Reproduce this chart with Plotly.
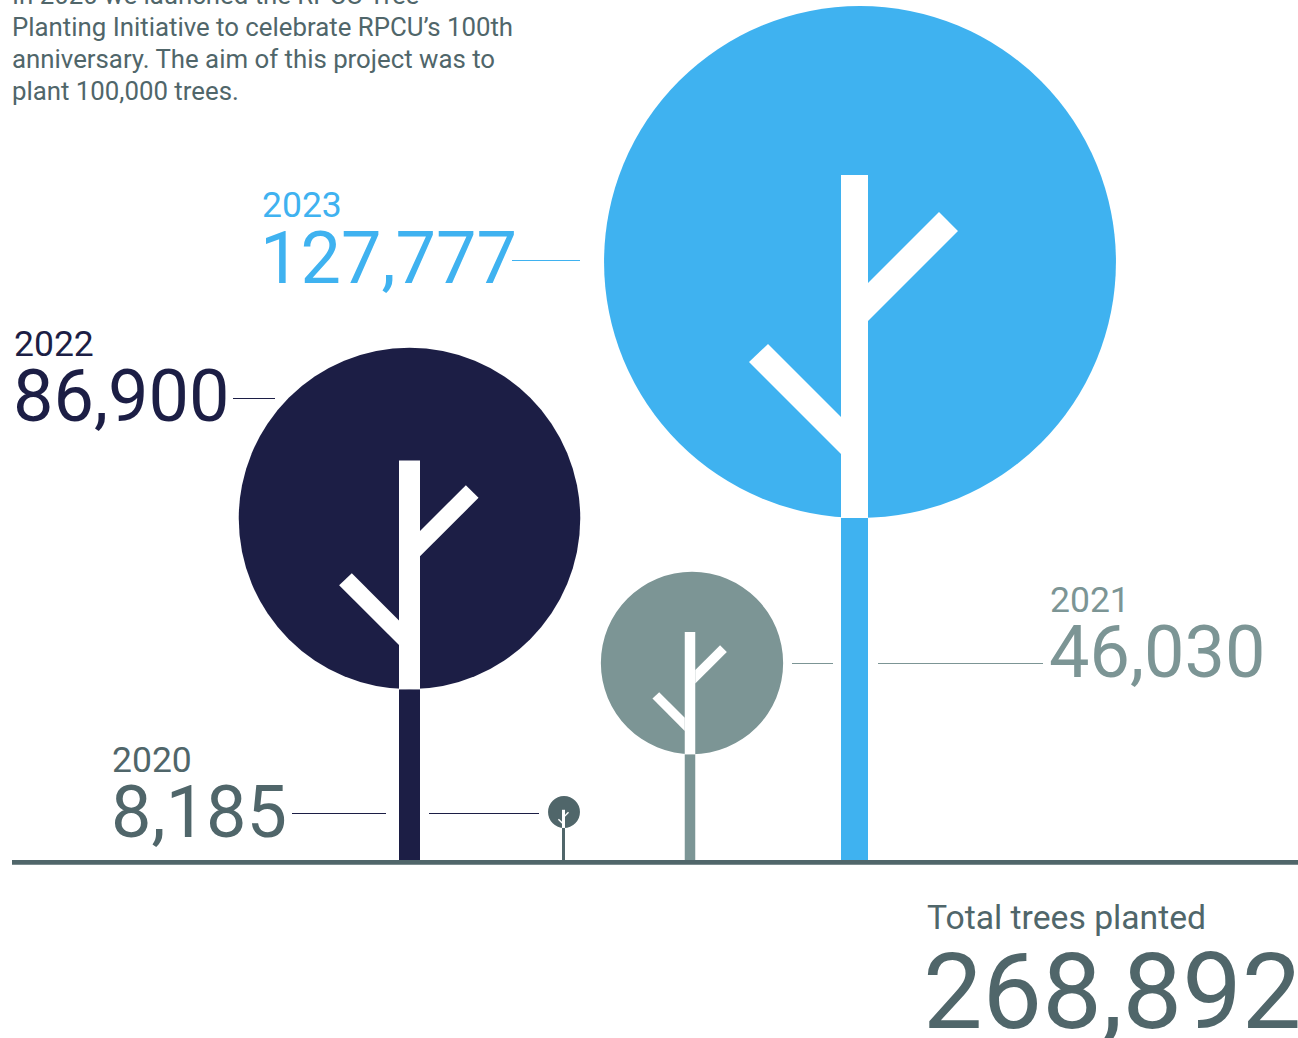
import plotly.graph_objects as go

# Trees planted per year
years = ["2020", "2021", "2022", "2023"]
trees_planted = [8185, 46030, 86900, 127777]
total_planted = 268892
colors = ["#50666a", "#7c9595", "#1c1e45", "#3fb2f0"]

# Crown size per planted tree, crown placement and trunk thickness
crown_per_tree = [0.00195, 0.00198, 0.001965, 0.002003]
crown_x = [564, 692, 409.5, 860]
crown_y = [48, 197, 341.5, 598]
trunk_x = [563.5, 690, 409.5, 854.5]
trunk_width = [3, 10.5, 21, 27]
inner_scale = [0.85, 1, 1, 1]

intro_lines = [
    "In 2020 we launched the RPCU Tree",
    "Planting Initiative to celebrate RPCU’s 100th",
    "anniversary. The aim of this project was to",
    "plant 100,000 trees.",
]

GROUND = 0
FONT = "Roboto"
INK = "#50666a"

fig = go.Figure()


def polygon(points, color):
    path = "M " + " L ".join(f"{x:.2f},{y:.2f}" for x, y in points) + " Z"
    fig.add_shape(type="path", path=path, xref="x", yref="y", fillcolor=color, line_width=0)


def segment(x0, x1, y, color, width=1):
    fig.add_trace(go.Scatter(x=[x0, x1], y=[y, y], mode="lines",
                             line=dict(color=color, width=width), hoverinfo="skip", showlegend=False))


for v, k, cx, cy, tx, tw, s, c in zip(trees_planted, crown_per_tree, crown_x, crown_y,
                                      trunk_x, trunk_width, inner_scale, colors):
    r = v * k
    base = cy - r
    fig.add_shape(type="circle", xref="x", yref="y", x0=cx - r, x1=cx + r, y0=cy - r, y1=cy + r,
                  fillcolor=c, line_width=0)
    h = tw / 2
    u = r * s / 256
    # lower trunk in the tree's colour
    polygon([(tx - h, GROUND), (tx + h, GROUND), (tx + h, base), (tx - h, base)], c)
    # white trunk and 45-degree branches inside the crown
    polygon([(tx - h, base), (tx + h, base), (tx + h, base + 343 * u), (tx - h, base + 343 * u)], "#ffffff")
    polygon([(tx + h, base + 221.5 * u + h), (tx + 84.5 * u, base + 306 * u),
             (tx + 103.5 * u, base + 287 * u), (tx + h, base + 183.5 * u + h)], "#ffffff")
    polygon([(tx - h, base + 87.5 * u + h), (tx - 86.5 * u, base + 174 * u),
             (tx - 105.5 * u, base + 156 * u), (tx - h, base + 50.5 * u + h)], "#ffffff")

# Ground line
polygon([(12, 0), (1298, 0), (1298, -4.8), (12, -4.8)], INK)

# Leader lines between figures and crowns
segment(512, 580, 599.5, "#3fb2f0")
segment(233, 275, 461.5, "#1c1e45")
segment(292, 386, 46.5, "#1c1e45")
segment(429, 539, 46.5, "#1c1e45")
segment(792, 833, 196.5, "#7c9595")
segment(878, 1043, 196.5, "#7c9595")


def label(x, y, text, size, color, yref="y"):
    fig.add_annotation(x=x, y=y, text=text, showarrow=False, xanchor="left", yanchor="middle",
                       xref="x", yref=yref, borderpad=0, align="left",
                       font=dict(family=FONT, size=size, color=color))


# Year and tree-count labels
label_pos = [(110, 100, 48), (1048, 260, 208), (12, 516, 464), (259, 655, 602)]
for year, v, c, (x, ya, yb) in zip(years, trees_planted, colors, label_pos):
    label(x + 2 if year == "2023" else x + 1, ya, year, 35.5, c)
    label(x, yb, f"{v:,}", 72, c)

# Intro text; its first line runs off the top of the page
label(11, 1 + 5 / 1038, intro_lines[0], 25.8, INK, yref="paper")
for i, line in enumerate(intro_lines[1:]):
    label(11, 833 - 32 * i, line, 25.8, INK)

label(926, -57, "Total trees planted", 33.7, INK)
label(922, -132, f"{total_planted:,}", 106, INK)

fig.update_layout(
    width=1298, height=1038, margin=dict(l=0, r=0, t=0, b=0),
    paper_bgcolor="#ffffff", plot_bgcolor="#ffffff", showlegend=False,
    xaxis=dict(range=[0, 1298], visible=False, fixedrange=True),
    yaxis=dict(range=[-178, 860], visible=False, fixedrange=True),
)
fig.write_html("out.html")
